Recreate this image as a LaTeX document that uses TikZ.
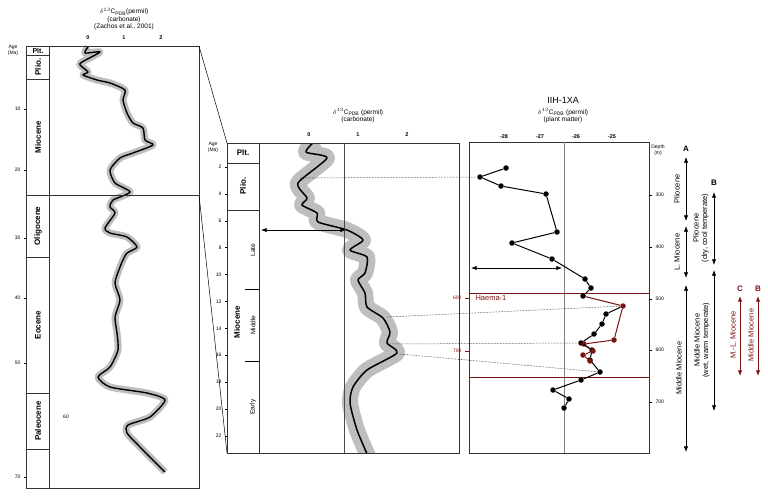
\documentclass[tikz,border=0pt]{standalone}
\usepackage{fontspec}
\setmainfont{Liberation Sans}
\usetikzlibrary{arrows.meta}
\definecolor{dred}{RGB}{125,20,20}
\definecolor{band}{RGB}{190,190,190}
\tikzset{
  frame/.style={draw=black!80, line width=0.6pt},
  tk/.style={font=\fontsize{5}{6}\selectfont},
  ttl/.style={font=\fontsize{6.5}{7.5}\selectfont, align=center},
  epoch/.style={font=\bfseries\fontsize{8}{9}\selectfont, rotate=90},
  sub/.style={font=\fontsize{6.5}{7}\selectfont, rotate=90},
  ann/.style={font=\fontsize{7.5}{8.5}\selectfont, rotate=90, align=center},
  darr/.style={Latex-Latex, line width=0.6pt},
  dot/.style={circle, fill=black, inner sep=0pt, minimum size=5.5pt},
  rdot/.style={circle, fill=dred, inner sep=0pt, minimum size=5.5pt},
  dots/.style={densely dotted, line width=0.5pt},
}
\begin{document}
\begin{tikzpicture}[x=1pt,y=-1pt]
\useasboundingbox (0,0) rectangle (768,496);
\fill[white] (0,0) rectangle (768,496);

%================ LEFT PANEL =================
\node[ttl] (lt) at (124,19) {$\delta^{13}$C\textsubscript{\tiny PDB}(permil)\\(carbonate)\\(Zachos et al., 2001)};
\foreach \v/\x in {0/88,1/124,2/161} \node[tk,font=\bfseries\fontsize{5.5}{6}\selectfont] at (\x,38) {\v};
\draw[band, line width=7pt, line join=round, line cap=butt] plot[smooth, tension=0.4] coordinates {(88,47)(85,53)(100,52)(82,62)(80,65)(88,72)(83,75)(97,80)(110,83)(125,90)(123,100)(127,113)(133,123)(143,128)(145,140)(153,145)(133,153)(120,158)(110,170)(115,183)(130,192)(113,200)(110,207)(115,213)(105,228)(110,233)(127,237)(137,247)(127,253)(123,260)(120,267)(115,283)(120,300)(115,317)(117,333)(118,350)(110,367)(98,377)(110,387)(147,393)(165,400)(150,417)(128,425)(127,433)(140,447)(165,472)};
\draw[line width=1.4pt, line join=round] plot[smooth, tension=0.4] coordinates {(88,47)(85,53)(100,52)(82,62)(80,65)(88,72)(83,75)(97,80)(110,83)(125,90)(123,100)(127,113)(133,123)(143,128)(145,140)(153,145)(133,153)(120,158)(110,170)(115,183)(130,192)(113,200)(110,207)(115,213)(105,228)(110,233)(127,237)(137,247)(127,253)(123,260)(120,267)(115,283)(120,300)(115,317)(117,333)(118,350)(110,367)(98,377)(110,387)(147,393)(165,400)(150,417)(128,425)(127,433)(140,447)(165,472)};
\draw[frame] (26,46) rectangle (199,488);
\draw[frame] (49,46) -- (49,488);
\draw[frame] (26,55) -- (49,55) (26,79) -- (49,79) (26,257) -- (49,257) (26,393) -- (49,393) (26,449) -- (49,449);
\draw[frame] (26,195) -- (199,195);
\node[font=\bfseries\fontsize{7}{8}\selectfont] (lplt) at (38,51) {Plt.};
\node[epoch] (lplio) at (38,67) {Plio.};
\node[epoch] (lmio) at (38,137) {Miocene};
\node[epoch] (lolig) at (38,226) {Oligocene};
\node[epoch] (leoc) at (38,325) {Eocene};
\node[epoch] (lpal) at (38,421) {Paleocene};
\node[tk,align=center] (lage) at (13,50) {Age\\(Ma)};
\foreach \a/\y in {10/109,20/170,30/238,40/298,50/363,70/477} {\draw (24,\y) -- (26,\y); \node[tk,anchor=east] at (24,\y) {\a};}
\node[tk] (l60) at (66,417) {60};

% connecting lines
\coordinate (ltr) at (199,46);
\coordinate (lmr) at (199,195);
\coordinate (mtl) at (227,143);
\coordinate (mbl) at (227,453);
\draw[line width=0.5pt] (ltr) -- (mtl);
\draw[line width=0.5pt] (lmr) -- (mbl);

%================ MIDDLE PANEL =================
\begin{scope}
\clip (259,143) rectangle (459,453);
\draw[band, line width=16pt, line join=round, line cap=butt] plot[smooth, tension=0.4] coordinates {(316,140)(306,152)(327,158)(298,183)(307,198)(302,205)(317,213)(318,222)(347,230)(363,240)(350,250)(367,257)(365,273)(358,280)(365,293)(367,307)(383,318)(390,332)(387,343)(397,353)(367,370)(353,387)(350,403)(357,430)(368,456)};
\draw[line width=1.5pt, line join=round] plot[smooth, tension=0.4] coordinates {(316,140)(306,152)(327,158)(298,183)(307,198)(302,205)(317,213)(318,222)(347,230)(363,240)(350,250)(367,257)(365,273)(358,280)(365,293)(367,307)(383,318)(390,332)(387,343)(397,353)(367,370)(353,387)(350,403)(357,430)(368,456)};
\end{scope}
\node[ttl] (mt) at (358,116) {$\delta^{13}$C\textsubscript{\tiny PDB} (permil)\\(carbonate)};
\foreach \v/\x in {0/309,1/358,2/407} \node[tk,font=\bfseries\fontsize{5.5}{6}\selectfont] at (\x,135) {\v};
\draw[frame] (227,143) rectangle (459,453);
\draw[frame] (259,143) -- (259,453);
\draw[black!70, line width=0.6pt] (344,143) -- (344,453);
\draw[frame] (227,163) -- (259,163) (227,210) -- (259,210);
\draw[line width=0.4pt] (245,289) -- (259,289) (245,361) -- (259,361);
\node[font=\bfseries\fontsize{8}{9}\selectfont] (mplt) at (243,153) {Plt.};
\node[epoch] (mplio) at (243,186) {Plio.};
\node[epoch] (mmio) at (237,322) {Miocene};
\node[sub] (mlate) at (253,250) {Late};
\node[sub] (mmid) at (253,325) {Middle};
\node[sub] (mearly) at (253,407) {Early};
\node[tk,align=center] (mage) at (213,147) {Age\\(Ma)};
\foreach \a in {2,4,...,22} {\pgfmathsetmacro\yy{140+13.45*\a}\draw (225,\yy) -- (227,\yy); \node[tk,anchor=east] at (225,\yy) {\a};}
\coordinate (ma1) at (261,230);
\coordinate (ma2) at (346,230);
\draw[darr] (ma1) -- (ma2);

%================ RIGHT PANEL =================
\node[font=\fontsize{9}{10}\selectfont] (rt) at (563,100) {IIH-1XA};
\node[ttl] (rt2) at (563,116) {$\delta^{13}$C\textsubscript{\tiny PDB} (permil)\\(plant matter)};
\foreach \v/\x in {-28/504,-27/540,-26/576,-25/612} \node[tk,font=\bfseries\fontsize{5.5}{6}\selectfont] at (\x,137) {\v};
\draw[frame] (469,142) rectangle (649,453);
\draw[black!50, line width=0.8pt] (564,142) -- (564,453);
\draw[dred, line width=0.7pt] (649,293) -- (469,293) -- (469,377) -- (649,377);
\node[text=dred, font=\fontsize{7.5}{8}\selectfont, anchor=west] (haema) at (472,298) {Haema-1};
\draw[dred] (465,298) -- (469,298) (465,351) -- (469,351);
\node[tk,text=dred,anchor=east] at (465,298) {600};
\node[tk,text=dred,anchor=east] at (465,351) {700};
\node[tk,align=center] (depth) at (658,150) {Depth\\(m)};
\foreach \d/\y in {300/195,400/247,500/299,600/350,700/402} {\draw (649,\y) -- (652,\y); \node[tk,anchor=west] at (652,\y) {\d};}
% black series
\foreach \i/\x/\y in {1/506/168,2/480/177,3/501/186,4/546/194,5/557/232,6/512/243,7/552/259,8/585/279,9/591/288,10/583/296,11/606/314,12/602/324,13/594/334,14/581/343,15/592/350,16/590/360,17/600/372,18/581/380,19/553/390,20/569/399,21/564/408}
  \node[dot] (b\i) at (\x,\y) {};
% red series
\foreach \i/\x/\y in {1/623/306,2/614/340,3/584/344,4/593/351,5/583/355,6/590/361}
  \node[rdot] (r\i) at (\x,\y) {};
\draw[dred, line width=1pt] (b10) -- (r1) -- (r2) -- (r3) -- (r4) -- (r5) -- (r6);
\draw[line width=1pt] (b1) -- (b2) -- (b3) -- (b4) -- (b5) -- (b6) -- (b7) -- (b8) -- (b9) -- (b10);
\draw[line width=1pt] (r1) -- (b11) -- (b12) -- (b13) -- (b14) -- (b15) -- (b16) -- (b17) -- (b18) -- (b19) -- (b20) -- (b21);
\coordinate (ra1) at (471,268);
\coordinate (ra2) at (562,268);
\draw[darr] (ra1) -- (ra2);

% dotted correlations
\coordinate (c1) at (300,178);
\coordinate (c2) at (387,317);
\coordinate (c3) at (389,344);
\coordinate (c4) at (400,354);
\draw[dots] (c1) -- (b2);
\draw[dots] (c2) -- (r1);
\draw[dots] (c3) -- (b14);
\draw[dots] (c4) -- (b17);

%================ ANNOTATIONS =================
\tikzset{lab/.style={font=\bfseries\fontsize{8}{9}\selectfont}}
\node[lab] (A) at (686,149) {A};
\draw[darr] (686,157) -- (686,221);
\node[ann] (apl) at (677,189) {Pliocene};
\draw[darr] (686,226) -- (686,278);
\node[ann] (alm) at (677,252) {L. Miocene};
\draw[darr] (686,285) -- (686,452);
\node[ann] (amm) at (679,368) {Middle Miocene};
\node[lab] (B) at (714,183) {B};
\draw[darr] (714,192) -- (714,265);
\node[ann] (bpl) at (701,228) {Pliocene\\(dry, cool temperate)};
\draw[darr] (714,270) -- (714,411);
\node[ann] (bmm) at (702,340) {Middle Miocene\\(wet, warm temperate)};
\node[lab,text=dred] (C2) at (740,289) {C};
\draw[darr,dred] (740,296) -- (740,376);
\node[ann,text=dred] (cml) at (733,335) {M.-L. Miocene};
\node[lab,text=dred] (B2) at (758,289) {B};
\draw[darr,dred] (758,296) -- (758,376);
\node[ann,text=dred] (bmm2) at (751,335) {Middle Miocene};
\end{tikzpicture}
\end{document}
